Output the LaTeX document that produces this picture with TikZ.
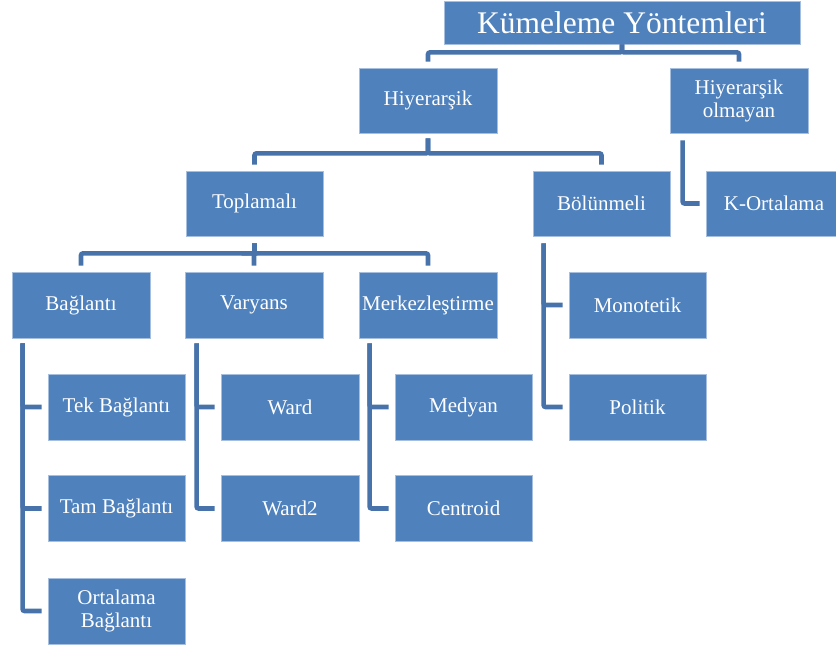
\documentclass[tikz,border=0pt]{standalone}
\usepackage{fontspec}
\setmainfont{Liberation Serif}
\definecolor{boxfill}{RGB}{79,129,189}
\definecolor{boxline}{RGB}{167,191,222}
\definecolor{connc}{RGB}{71,115,170}
\tikzset{
  box/.style={draw=boxline, line width=0.8pt, fill=boxfill, text=white,
    minimum width=138pt, minimum height=66pt, inner sep=2pt, align=center,
    font=\fontsize{21}{23}\selectfont},
  conn/.style={draw=connc, line width=4.6pt, rounded corners=2pt,
    shorten >=6pt, line cap=butt}
}
\begin{document}
\begin{tikzpicture}[x=1pt,y=-1pt]
\useasboundingbox (0,0) rectangle (836,646);
% nodes
\node[box, minimum width=356pt, minimum height=43pt, font=\fontsize{31.5}{34}\selectfont] (title) at (622,22.5) {Kümeleme Yöntemleri};
\node[box, minimum height=65pt] (hier) at (428,100.5) {Hiyerarşik};
\node[box, minimum height=65pt] (olm) at (739,100.5) {Hiyerarşik\\olmayan};
\node[box, minimum width=137pt, minimum height=65pt] (top) at (254.5,203.5) {Toplamalı};
\node[box, minimum width=137pt, minimum height=65pt] (bol) at (601.5,203.5) {Bölünmeli};
\node[box, minimum width=130pt, minimum height=65pt, xshift=0pt] (kort) at (771,203.5) {\hspace*{6pt}K-Ortalama};
\node[box] (bag) at (81,305) {Bağlantı};
\node[box] (var) at (254,305) {Varyans};
\node[box] (mer) at (428,305) {Merkezleştirme};
\node[box, minimum width=137pt] (mono) at (637.5,305) {Monotetik};
\node[box, minimum width=137pt] (pol) at (637.5,407) {Politik};
\node[box, minimum width=137pt] (tek) at (116.5,407) {Tek Bağlantı};
\node[box, minimum width=137pt] (tam) at (116.5,508.5) {Tam Bağlantı};
\node[box, minimum width=137pt] (ort) at (116.5,611) {Ortalama\\Bağlantı};
\node[box] (ward) at (290,407) {Ward};
\node[box] (wardb) at (290,508.5) {Ward2};
\node[box, minimum width=137pt] (med) at (463.5,407) {Medyan};
\node[box, minimum width=137pt] (cen) at (463.5,508.5) {Centroid};
% connectors: top level
\draw[conn] (title.south) -- ++(0,8) -| (hier.north);
\draw[conn] (title.south) -- ++(0,8) -| (olm.north);
% Hiyerarşik
\draw[conn] (hier.south) ++(0,5) -- ++(0,15) -| (top.north);
\draw[conn] (hier.south) ++(0,5) -- ++(0,15) -| (bol.north);
% Toplamalı
\draw[conn] (top.south) ++(0,7) -- ++(0,10) -| (bag.north);
\draw[conn] (top.south) ++(0,7) -- ++(0,10) -| (var.north);
\draw[conn] (top.south) ++(0,7) -- ++(0,10) -| (mer.north);
% Hiyerarşik olmayan
\draw[conn] (olm.south west) ++(13,7) |- (kort.west);
% Bölünmeli
\draw[conn] (bol.south west) ++(11,7) |- (mono.west);
\draw[conn] (bol.south west) ++(11,7) |- (pol.west);
% Bağlantı
\draw[conn] (bag.south west) ++(11,5) |- (tek.west);
\draw[conn] (bag.south west) ++(11,5) |- (tam.west);
\draw[conn] (bag.south west) ++(11,5) |- (ort.west);
% Varyans
\draw[conn] (var.south west) ++(12,5) |- (ward.west);
\draw[conn] (var.south west) ++(12,5) |- (wardb.west);
% Merkezleştirme
\draw[conn] (mer.south west) ++(11,5) |- (med.west);
\draw[conn] (mer.south west) ++(11,5) |- (cen.west);
\end{tikzpicture}
\end{document}
